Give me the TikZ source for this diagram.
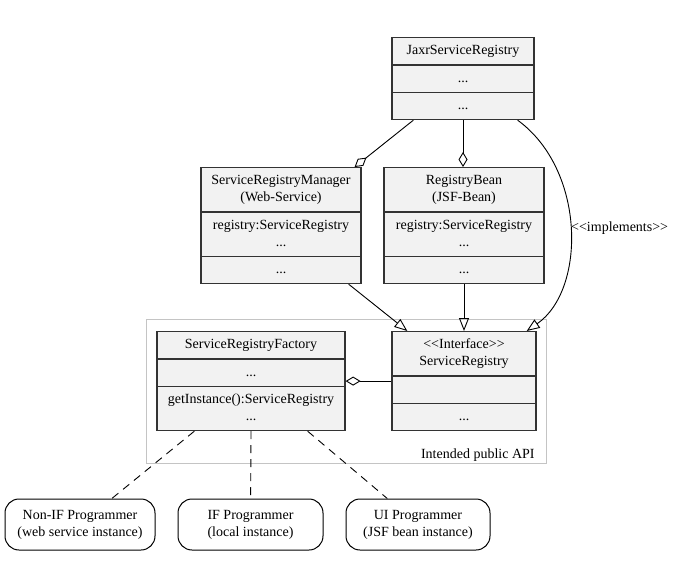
\documentclass[tikz,border=0pt]{standalone}
\usepackage{fontspec}
\setmainfont{Liberation Serif}
\usetikzlibrary{shapes.multipart,arrows.meta}
\definecolor{classfill}{HTML}{F2F2F2}
\definecolor{classline}{HTML}{333333}
\definecolor{apiline}{HTML}{C4C4C4}
\newcommand\stereo[1]{<\kern0pt<#1>\kern0pt>}

\begin{document}
\begin{tikzpicture}[x=1pt, y=-1pt, font=\fontsize{14}{17}\selectfont,
  umlclass/.style={draw=classline, fill=classfill, line width=1.3pt, rectangle split, rectangle split parts=3, inner xsep=4pt, inner ysep=4.5pt, align=center, anchor=north},
  actor/.style={draw, rounded corners=14pt, line width=1pt, minimum width=#1, minimum height=51pt, align=center},
  aggr/.style={-{Diamond[open, length=15pt, width=9pt]}, line width=0.9pt},
  impl/.style={-{Triangle[open, length=13pt, width=10pt]}, line width=0.9pt},
  usage/.style={dash pattern=on 8pt off 6pt, line width=0.9pt}]
  \useasboundingbox (0,0) rectangle (673,565);

  \node [draw=apiline, line width=0.8pt, minimum width=400pt, minimum height=144pt, inner sep=0pt, anchor=north west] (api) at (146,319) {};
  \node [anchor=base east, inner sep=0pt] (apilabel) at ([xshift=-12pt, yshift=5pt]api.south east) {Intended public API};

  \node [umlclass, text width=134pt] (jaxr) at (463,37) {\strut JaxrServiceRegistry \nodepart{two}\strut ... \nodepart{three}\strut ...};
  \node [umlclass, text width=152pt] (mgr) at (281,167) {\strut ServiceRegistryManager\\(Web-Service)\strut \nodepart{two}\strut registry:ServiceRegistry\\...\strut \nodepart{three}\strut ...};
  \node [umlclass, text width=152pt] (bean) at (464,167) {\strut RegistryBean\\(JSF-Bean)\strut \nodepart{two}\strut registry:ServiceRegistry\\...\strut \nodepart{three}\strut ...};
  \node [umlclass, text width=180pt] (fac) at (251,331) {\strut ServiceRegistryFactory \nodepart{two}\strut ... \nodepart{three}\strut getInstance():ServiceRegistry\\...\strut};
  \node [umlclass, text width=136pt] (sr) at (464,331) {\strut \stereo{Interface}\\ServiceRegistry\strut \nodepart{two}\strut \nodepart{three}\strut ...};

  \node [actor=150pt] (nonifprog) at (80,524.5) {Non-IF Programmer\\(web service instance)};
  \node [actor=145pt] (ifprog) at (250.5,524.5) {IF Programmer\\(local instance)};
  \node [actor=144pt] (uiprog) at (418,524.5) {UI Programmer\\(JSF bean instance)};

  \draw [aggr] ([xshift=22pt]jaxr.south west) -- ([xshift=-7pt]mgr.north east);
  \draw [aggr] (jaxr.south) -- (jaxr.south |- bean.north);
  \draw [impl] ([xshift=-17pt]jaxr.south east) .. controls (586,170) and (586,290) .. ([xshift=-10pt]sr.north east);
  \node [anchor=west, inner sep=0pt] (impllabel) at (571,228) {\stereo{implements}};
  \draw [impl] ([xshift=-13pt]mgr.south east) -- ([xshift=16pt]sr.north west);
  \draw [impl] (bean.south) -- (bean.south |- sr.north);
  \draw [aggr] (sr.west) -- (sr.west -| fac.east);

  \draw [usage] ([xshift=38pt]fac.south west) -- (nonifprog);
  \draw [usage] (fac.south) -- (ifprog);
  \draw [usage] ([xshift=-38pt]fac.south east) -- (uiprog);
\end{tikzpicture}
\end{document}
